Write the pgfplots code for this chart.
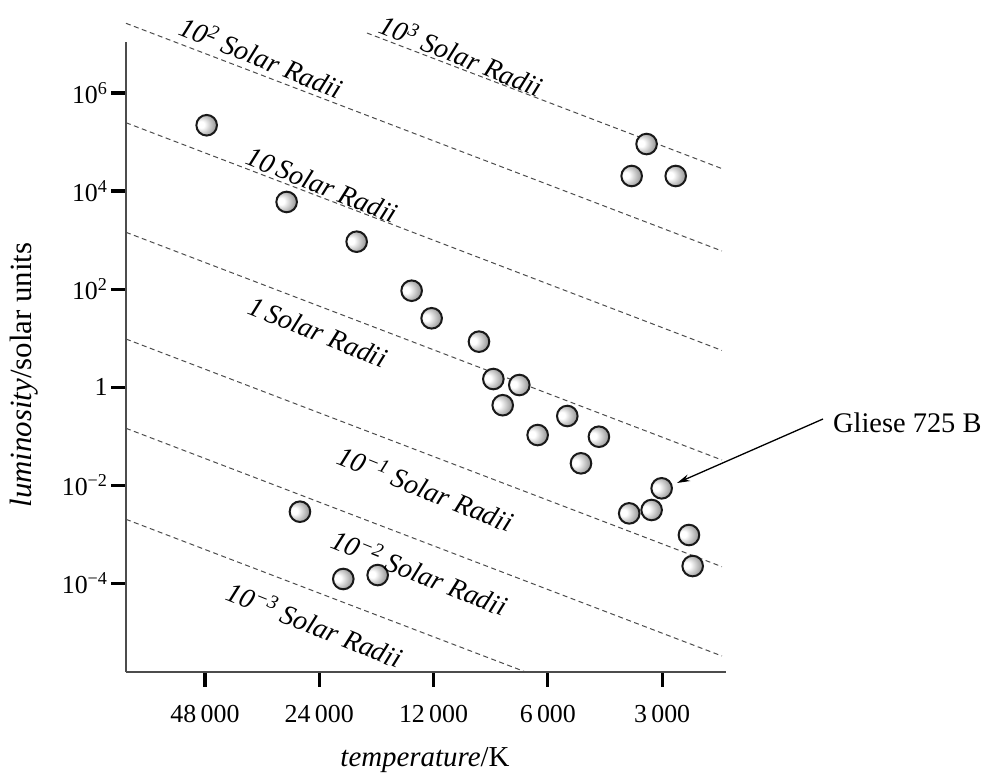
\documentclass[border=0pt]{standalone}
\usepackage{fontspec}
\setmainfont{Liberation Serif}
\usepackage{pgfplots}
\pgfplotsset{compat=1.18}
\usepackage{pgfplotstable}
\usetikzlibrary{arrows.meta}
\pgfplotsset{every tick/.style={black, line width=3.2bp}}

\pgfdeclareradialshading{starball}{\pgfpoint{-16bp}{2bp}}{color(0bp)=(white); color(8bp)=(white); color(28bp)=(black!38); color(50bp)=(black!72)}
\pgfdeclareplotmark{starball}{%
  \pgfpathcircle{\pgfpointorigin}{\pgfplotmarksize}%
  \pgfshadepath{starball}{0}%
  \pgfusepath{stroke}%
}

\pgfplotstableread{
T L
47500 2.2e5
29250 6000
19130 929
13706 93
12140 25.5
9110 8.5
8350 1.47
7135 1.11
7890 0.43
5333 0.259
6383 0.106
4402 0.098
4908 0.0281
3009 0.00869
3198 0.00314
3663 0.00268
2550 9.7e-4
2493 2.26e-4
3297 9.1e4
3609 2.03e4
2763 2.03e4
26980 0.0029
20745 1.23e-4
16840 1.48e-4
}\stars

\begin{document}
\begin{tikzpicture}
\path[use as bounding box] (0,0) rectangle (987bp,774bp);
\begin{axis}[
  at={(126bp,102bp)}, anchor=south west,
  scale only axis, width=600bp, height=630bp,
  xmode=log, ymode=log, x dir=reverse,
  xmin=2037, xmax=77500, ymin=1.561e-6, ymax=1.0965e7,
  axis lines=left, axis line style={-, line width=2bp, black!70},
  clip=false,
  tick align=outside, major tick length=15bp,
  xtick style={black, line width=3.2bp},
  ytick style={black, line width=3.2bp},
  minor tick num=0,
  xtick={3000,6000,12000,24000,48000},
  xticklabels={3\,000,6\,000,12\,000,24\,000,48\,000},
  ytick={1e-4,1e-2,1,1e2,1e4,1e6},
  yticklabels={10\textsuperscript{−4},10\textsuperscript{−2},1,10\textsuperscript{2},10\textsuperscript{4},10\textsuperscript{6}},
  tick label style={font=\fontsize{26}{30}\selectfont, text=black},
  xticklabel style={yshift=-15bp},
  dashline/.style={black!70, line width=1bp, dash pattern=on 5bp off 3.5bp},
]
\addplot[dashline] coordinates {(17971,1.673e7) (2088,2.873e4)};
\addplot[dashline] coordinates {(77500,2.638e7) (2088,599.8)};
\addplot[dashline] coordinates {(77500,2.480e5) (2088,5.639)};
\addplot[dashline] coordinates {(77500,1444) (2088,0.03284)};
\addplot[dashline] coordinates {(77500,9.632) (2088,2.191e-4)};
\addplot[dashline] coordinates {(77500,0.1455) (2088,3.309e-6)};
\addplot[dashline] coordinates {(77500,2.028e-3) (6864,1.561e-6)};
\addplot[only marks, mark=starball, mark size=10.3bp, mark options={draw=black!90, line width=2bp}] table[x=T,y=L]{\stars};
\end{axis}
\begin{scope}[every node/.style={font=\fontsize{28}{34}\selectfont\itshape, rotate=-22, inner sep=0pt}]
\node at (462bp,719bp) {10\textsuperscript{3} Solar Radii};
\node at (262bp,717bp) {10\textsuperscript{2} Solar Radii};
\node at (322bp,589bp) {10\,Solar Radii};
\node at (318bp,442bp) {1\,Solar Radii};
\node at (426bp,286bp) {10\textsuperscript{−1} Solar Radii};
\node at (420bp,202bp) {10\textsuperscript{−2} Solar Radii};
\node at (315bp,150bp) {10\textsuperscript{−3} Solar Radii};
\end{scope}
\draw[line width=1.3bp, -{Stealth[length=13bp, width=7bp]}] (823bp,355bp) -- (677bp,291bp);
\node[anchor=west, inner sep=0pt, font=\fontsize{28.5}{34}\selectfont] at (833bp,351bp) {Gliese 725 B};
\node[rotate=90, inner sep=0pt, font=\fontsize{31}{36}\selectfont] at (24bp,399bp) {\textit{luminosity}/solar units};
\node[inner sep=0pt, font=\fontsize{29}{34}\selectfont] at (425bp,14bp) {\textit{temperature}/K};
\end{tikzpicture}
\end{document}
